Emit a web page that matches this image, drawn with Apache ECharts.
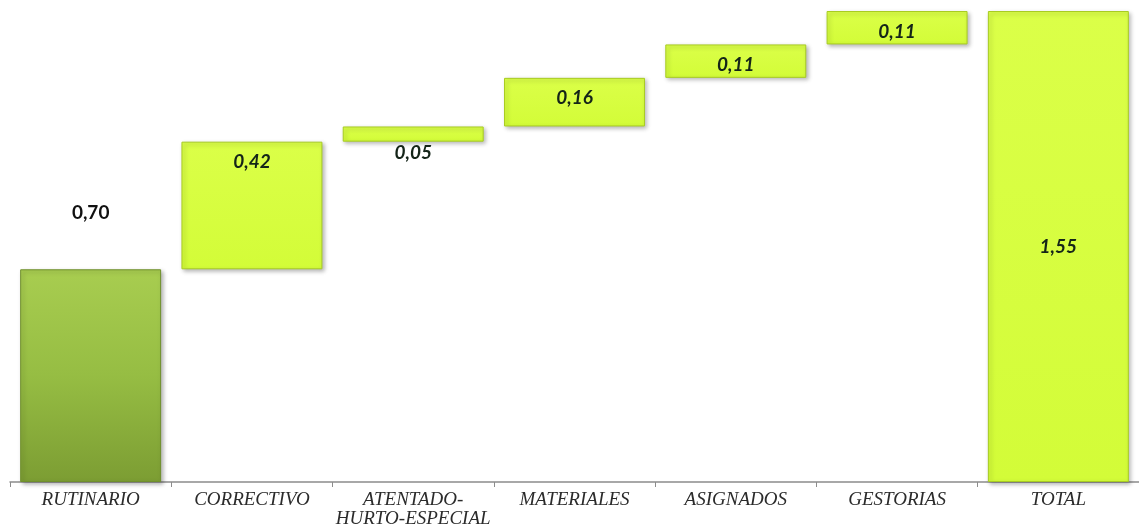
<!DOCTYPE html>
<html>
<head>
<meta charset="utf-8">
<style>
  html, body { margin: 0; padding: 0; background: #ffffff; }
  #chart { width: 1139px; height: 527px; }
</style>
<script src="https://cdn.jsdelivr.net/npm/echarts@6/dist/echarts.min.js"></script>
</head>
<body>
<div id="chart"></div>
<script>
// Cost breakdown by concept, shown as a waterfall ending in the total.
const categories = ['RUTINARIO', 'CORRECTIVO', 'ATENTADO-\nHURTO-ESPECIAL', 'MATERIALES', 'ASIGNADOS', 'GESTORIAS', 'TOTAL'];
const increments = [0.70, 0.42, 0.05, 0.16, 0.11, 0.11];
const total = 1.55;

// Floating bases: each step starts where the running sum left off.
const bases = [];
let running = 0;
increments.forEach((v, i) => {
  bases.push(i === 0 ? 0 : running);
  running += v;
});
bases.push(0);
const values = increments.concat([total]);

const fmt = v => v.toFixed(2).replace('.', ',');

const olive = new echarts.graphic.LinearGradient(0, 0, 0, 1, [
  { offset: 0, color: '#a8cd50' },
  { offset: 0.5, color: '#96bd43' },
  { offset: 1, color: '#7c9d33' }
]);
const lime = new echarts.graphic.LinearGradient(0, 0, 0, 1, [
  { offset: 0, color: '#dbff48' },
  { offset: 1, color: '#d3fc38' }
]);

const labelBase = {
  show: true,
  fontFamily: 'Lato, "Open Sans", sans-serif',
  fontWeight: 'bold',
  fontStyle: 'italic',
  fontSize: 19,
  color: '#142418',
  formatter: p => fmt(p.value)
};

const visibleData = values.map((v, i) => {
  const last = i === values.length - 1;
  let label;
  if (i === 0) {
    label = Object.assign({}, labelBase, { position: 'top', distance: 47, fontStyle: 'normal', color: '#111' });
  } else if (last) {
    label = Object.assign({}, labelBase, { position: 'inside' });
  } else if (v < 0.08) {
    label = Object.assign({}, labelBase, { position: 'bottom', distance: 2 });
  } else {
    label = Object.assign({}, labelBase, { position: 'insideTop', distance: 11 });
  }
  return {
    value: v,
    label: label,
    itemStyle: {
      color: i === 0 ? olive : lime,
      borderColor: i === 0 ? '#6f8f2c' : '#a8cc22',
      borderWidth: 1,
      shadowColor: 'rgba(0,0,0,0.28)',
      shadowBlur: 4,
      shadowOffsetX: 2,
      shadowOffsetY: 2
    }
  };
});

const chart = echarts.init(document.getElementById('chart'), null, { renderer: 'canvas' });
chart.setOption({
  animation: false,
  backgroundColor: '#ffffff',
  grid: { left: 10, right: 0, top: 11, bottom: 45, containLabel: false, outerBoundsMode: 'none' },
  xAxis: {
    type: 'category',
    data: categories,
    axisLine: { show: true, lineStyle: { color: '#8c8c8c', width: 1.5 } },
    axisTick: { show: true, length: 5, lineStyle: { color: '#8c8c8c' } },
    axisLabel: {
      interval: 0,
      margin: 8,
      fontFamily: '"Liberation Serif", "Times New Roman", serif',
      fontStyle: 'italic',
      fontSize: 19,
      lineHeight: 19,
      color: '#2b2b2b'
    }
  },
  yAxis: {
    type: 'value',
    min: 0,
    max: 1.55,
    show: false,
    splitLine: { show: false }
  },
  series: [
    {
      type: 'bar',
      stack: 'wf',
      data: bases,
      itemStyle: { color: 'transparent' },
      barCategoryGap: '12.6%',
      silent: true
    },
    {
      type: 'bar',
      stack: 'wf',
      data: visibleData,
      barCategoryGap: '12.6%'
    }
  ]
});
</script>
</body>
</html>
